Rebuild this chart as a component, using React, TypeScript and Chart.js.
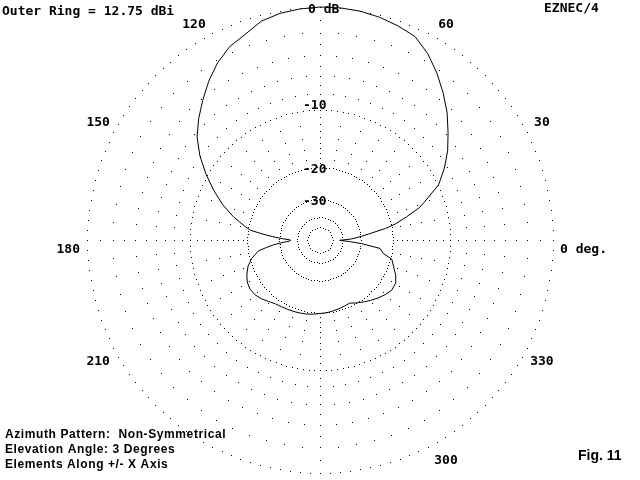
import React, { useEffect, useRef } from "react";
import { Chart, registerables } from "chart.js";

Chart.register(...registerables);

// Azimuth pattern, 3° elevation: azimuth (deg, CCW from +X) and gain relative to the outer ring (dB)
const AZIMUTH_DEG = [
  0, 2, 5, 7, 10, 12, 15, 18, 20, 25, 30, 35, 40, 45, 50, 55, 60, 65, 70, 75, 80, 85, 90, 95,
  100, 105, 110, 115, 120, 125, 130, 135, 140, 145, 150, 155, 160, 165, 170, 172, 174, 176, 178,
  180, 182, 184, 186, 188, 190, 195, 200, 205, 210, 215, 220, 225, 230, 235, 240, 245, 250, 255,
  260, 265, 270, 275, 280, 285, 290, 295, 300, 305, 310, 315, 320, 325, 330, 335, 340, 345, 348,
  352, 355, 357, 359,
];
const GAIN_DB = [
  -40.0, -34.2, -29.7, -26.8, -21.5, -19.0, -16.4, -13.8, -12.7, -9.9, -8.3, -6.9, -5.7, -4.45,
  -3.35, -2.3, -1.35, -0.63, -0.38, -0.18, -0.05, 0.0, 0.0, -0.08, -0.21, -0.48, -1.08, -1.5,
  -2.22, -3.15, -4.2, -5.25, -6.4, -7.95, -9.8, -11.8, -13.9, -16.4, -19.3, -20.6, -23.8, -27.4,
  -31.4, -35.5, -35.0, -31.0, -27.5, -25.0, -22.6, -20.5, -19.1, -18.2, -17.5, -17.2, -17.3,
  -17.7, -18.3, -18.8, -19.0, -19.1, -19.2, -19.3, -19.4, -19.6, -19.8, -19.9, -20.1, -20.3,
  -20.5, -20.7, -20.0, -19.3, -18.6, -17.9, -17.3, -16.8, -16.9, -17.6, -18.7, -19.6, -22.0,
  -23.1, -29.5, -35.5, -42.5,
];

const OUTER_RING_DBI = 12.75;
const MAJOR_RINGS_DB = [0, -10, -20, -30, -40, -50];
const LABELLED_RINGS_DB = [0, -10, -20, -30];
const OUTER_MINOR_RINGS_DB = [-2, -4, -6, -8];
const INNER_MINOR_RINGS_DB = [-12, -14, -16, -18];
const AXIS_DOTS_DB = Array.from({ length: 21 }, (_, i) => -i);
const AXES_DEG = [0, 90, 180, 270];
const ANGLE_TICKS_DEG = [0, 30, 60, 120, 150, 180, 210, 300, 330];
const INFO_LINES = [
  "Azimuth Pattern:  Non-Symmetrical",
  "Elevation Angle: 3 Degrees",
  "Elements Along +/- X Axis",
];
const PROGRAM_TAG = "EZNEC/4";
const FIGURE_TAG = "Fig. 11";

// ARRL log-periodic radius: each 2 dB shrinks the radius to 0.89
const arrlRadius = (db: number) => Math.pow(0.89, -db / 2);
const rad = (deg: number) => (deg * Math.PI) / 180;

function patternPoints() {
  const pts = AZIMUTH_DEG.map((a, i) => {
    const r = arrlRadius(GAIN_DB[i]);
    return { x: r * Math.cos(rad(a)), y: r * Math.sin(rad(a)) };
  });
  pts.push(pts[0]);
  return pts;
}

const MONO = 'bold 13px "DejaVu Sans Mono"';
const MONO_CAP = 9.5;

// Dotted polar grid: major rings, 2 dB lattice on the spokes, 1 dB ticks on the axes
const polarGrid = {
  id: "polarGrid",
  beforeDatasetsDraw(chart: any) {
    const { ctx } = chart;
    const xs = chart.scales.x;
    const ys = chart.scales.y;
    const rPx = xs.getPixelForValue(1) - xs.getPixelForValue(0);
    const dot = (r: number, deg: number) => {
      const px = Math.round(xs.getPixelForValue(r * Math.cos(rad(deg))));
      const py = Math.round(ys.getPixelForValue(r * Math.sin(rad(deg))));
      ctx.fillRect(px, py, 1, 1);
    };
    ctx.save();
    ctx.fillStyle = "#000";
    for (const db of MAJOR_RINGS_DB) {
      const r = arrlRadius(db);
      const stepDeg = Math.max(2.5, ((2.8 / (r * rPx)) * 180) / Math.PI);
      const n = Math.round(360 / stepDeg);
      for (let i = 0; i < n; i++) dot(r, (i * 360) / n);
    }
    for (const db of OUTER_MINOR_RINGS_DB) {
      for (let a = 0; a < 360; a += 5) dot(arrlRadius(db), a);
    }
    for (const db of INNER_MINOR_RINGS_DB) {
      for (let a = 0; a < 360; a += 10) dot(arrlRadius(db), a);
    }
    for (const db of AXIS_DOTS_DB) {
      for (const a of AXES_DEG) dot(arrlRadius(db), a);
    }
    ctx.restore();
  },
};

const annotations = {
  id: "annotations",
  afterDraw(chart: any) {
    const { ctx } = chart;
    const xs = chart.scales.x;
    const ys = chart.scales.y;
    const cx = xs.getPixelForValue(0);
    const cy = ys.getPixelForValue(0);
    const R = xs.getPixelForValue(1) - cx;
    ctx.save();
    ctx.fillStyle = "#000";
    ctx.font = MONO;
    ctx.textBaseline = "alphabetic";

    ctx.textAlign = "left";
    ctx.fillText(`Outer Ring = ${OUTER_RING_DBI.toFixed(2)} dBi`, 2, 15);
    ctx.fillText(PROGRAM_TAG, 544, 12);

    // ring values along the vertical axis
    for (const db of LABELLED_RINGS_DB) {
      const yRing = ys.getPixelForValue(arrlRadius(db));
      const text = db === 0 ? "0 dB" : String(db);
      const left = db === 0 ? cx - 12 : cx - 17;
      const lift = db === -10 ? 7 : 0;
      ctx.fillText(text, left, yRing + MONO_CAP / 2 + 1 - lift);
    }

    // azimuth labels; those nearer the horizontal sit slightly closer to it
    for (const a of ANGLE_TICKS_DEG) {
      const c = Math.cos(rad(a));
      const s = Math.sin(rad(a));
      const text = a === 0 ? "0 deg." : String(a);
      if (Math.abs(s) < 0.01) {
        ctx.textAlign = c > 0 ? "left" : "right";
        ctx.fillText(text, cx + c * (R + 7), cy + 2 + MONO_CAP + 1);
      } else {
        const toward = Math.abs(s) < 0.7 ? -1.7 * Math.sign(s * c) : 0;
        const b = rad(a + toward);
        ctx.textAlign = "center";
        ctx.fillText(
          text,
          cx + Math.cos(b) * (R + 19),
          cy - Math.sin(b) * (R + 19) + MONO_CAP / 2 + 1
        );
      }
    }

    ctx.textAlign = "left";
    ctx.font = 'bold 12px "Liberation Sans", Arial, sans-serif';
    (ctx as any).letterSpacing = "0.6px";
    INFO_LINES.forEach((t, i) => ctx.fillText(t, 5, 438 + 15 * i));
    (ctx as any).letterSpacing = "0px";
    ctx.font = 'bold 14px "Liberation Sans", Arial, sans-serif';
    ctx.fillText(FIGURE_TAG, 578, 460);
    ctx.restore();
  },
};

export default function App() {
  const ref = useRef<HTMLCanvasElement>(null);
  useEffect(() => {
    const chart = new Chart(ref.current as HTMLCanvasElement, {
      type: "scatter",
      data: {
        datasets: [
          {
            data: patternPoints(),
            showLine: true,
            borderColor: "#000",
            borderWidth: 1,
            pointRadius: 0,
            tension: 0,
            fill: false,
            clip: false,
          } as any,
        ],
      },
      options: {
        responsive: false,
        animation: false,
        devicePixelRatio: 1,
        events: [],
        layout: { padding: { left: 87, right: 87, top: 7, bottom: 7 } },
        scales: {
          x: { type: "linear", min: -1, max: 1, display: false },
          y: { type: "linear", min: -1, max: 1, display: false },
        },
        plugins: { legend: { display: false }, tooltip: { enabled: false } },
      },
      plugins: [polarGrid, annotations],
    });
    return () => chart.destroy();
  }, []);
  return (
    <div style={{ position: "fixed", left: 0, top: 0, width: 640, height: 480, background: "#fff" }}>
      <canvas ref={ref} width={640} height={480} style={{ display: "block" }} />
    </div>
  );
}
